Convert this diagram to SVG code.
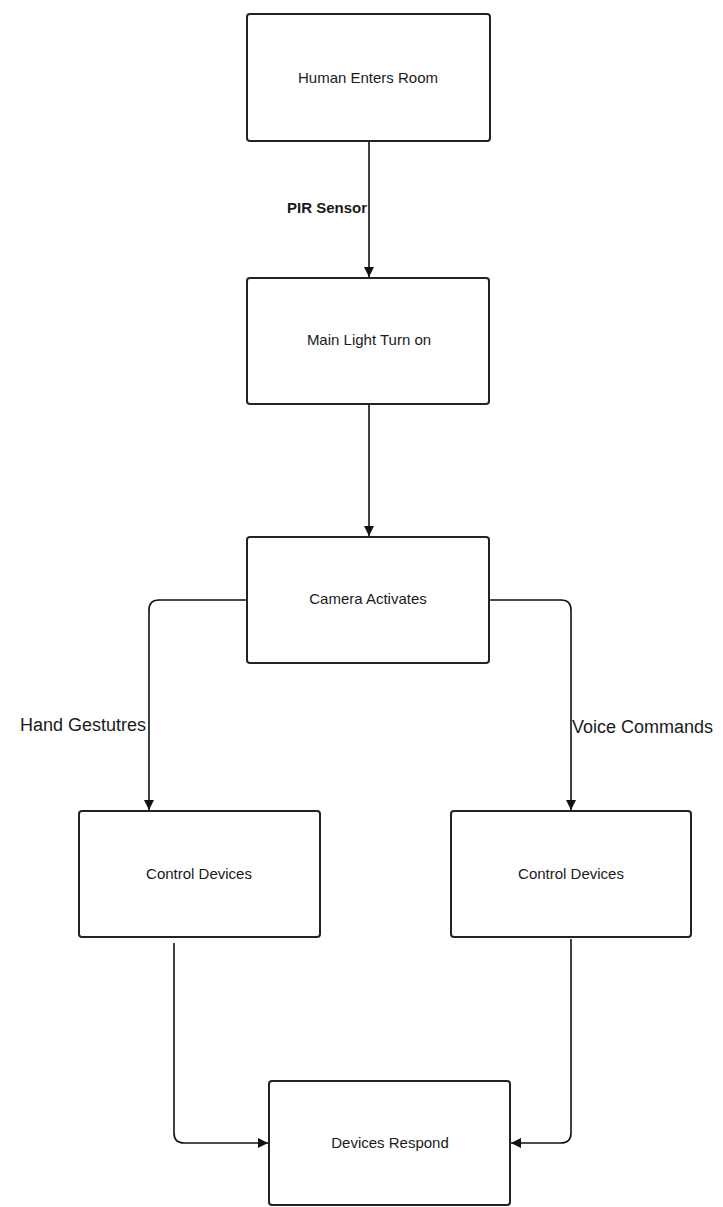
<svg xmlns="http://www.w3.org/2000/svg" width="723" height="1207" viewBox="0 0 723 1207">
<style>
.box{fill:#fff;stroke:#222;stroke-width:2}
.lbl{font-family:"Liberation Sans",Arial,sans-serif;font-size:15px;fill:#1a1a1a;text-anchor:middle;dominant-baseline:central}
.edge{fill:none;stroke:#111;stroke-width:1.6}
.elbl{font-family:"Liberation Sans",Arial,sans-serif;fill:#1a1a1a;dominant-baseline:central}
</style>
<defs>
<marker id="arr" viewBox="0 0 10 10" refX="10" refY="5" markerWidth="10" markerHeight="10" markerUnits="userSpaceOnUse" orient="auto">
<path d="M0,0 L10,5 L0,10 z" fill="#111"/>
</marker>
</defs>
<rect width="723" height="1207" fill="#fff"/>
<g id="connectors">
<path class="edge" d="M369,141 V277" marker-end="url(#arr)"/>
<path class="edge" d="M369,404 V536" marker-end="url(#arr)"/>
<path class="edge" d="M247,600 H159 Q149,600 149,610 V810" marker-end="url(#arr)"/>
<path class="edge" d="M489,600 H561 Q571,600 571,610 V810" marker-end="url(#arr)"/>
<path class="edge" d="M174,943 V1133 Q174,1143 184,1143 H268" marker-end="url(#arr)"/>
<path class="edge" d="M571,939 V1133 Q571,1143 561,1143 H511" marker-end="url(#arr)"/>
<text class="elbl" x="367" y="207" text-anchor="end" font-size="15" font-weight="bold">PIR Sensor</text>
<text class="elbl" x="146" y="725" text-anchor="end" font-size="18">Hand Gestutres</text>
<text class="elbl" x="572" y="727" text-anchor="start" font-size="18">Voice Commands</text>
</g>
<g id="n1"><rect class="box" x="247" y="14" width="243" height="127" rx="3"/><text class="lbl" x="368" y="77">Human Enters Room</text></g>
<g id="n2"><rect class="box" x="247" y="278" width="242" height="126" rx="3"/><text class="lbl" x="369" y="339">Main Light Turn on</text></g>
<g id="n3"><rect class="box" x="247" y="537" width="242" height="126" rx="3"/><text class="lbl" x="368" y="598">Camera Activates</text></g>
<g id="n4"><rect class="box" x="79" y="811" width="241" height="126" rx="3"/><text class="lbl" x="199" y="873">Control Devices</text></g>
<g id="n5"><rect class="box" x="451" y="811" width="240" height="126" rx="3"/><text class="lbl" x="571" y="873">Control Devices</text></g>
<g id="n6"><rect class="box" x="269" y="1081" width="241" height="124" rx="3"/><text class="lbl" x="390" y="1142">Devices Respond</text></g>
</svg>
